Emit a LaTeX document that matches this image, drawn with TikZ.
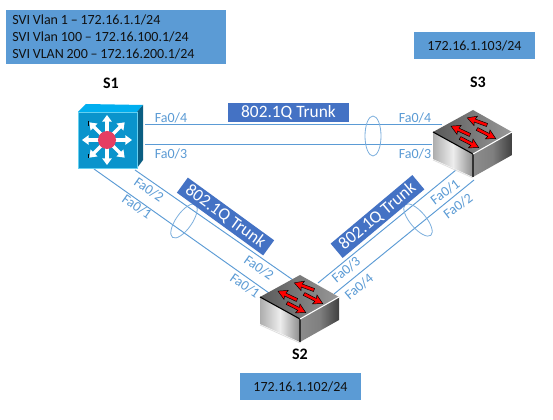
\documentclass[tikz,border=0pt]{standalone}
\usepackage{fontspec}
\usetikzlibrary{arrows.meta}
\setmainfont{Carlito}
\definecolor{boxblue}{HTML}{5B9BD5}
\definecolor{trunkblue}{HTML}{4472C4}
\definecolor{portblue}{HTML}{5B9BD5}
\definecolor{txtdark}{HTML}{111111}
\definecolor{cubetop}{HTML}{00AEEF}
\definecolor{cubefront}{HTML}{0A94CC}
\definecolor{cubeside}{HTML}{0B5E82}
\definecolor{cubeedge}{HTML}{66D0F0}
\definecolor{cubehub}{HTML}{E63E62}
\tikzset{
 infobox/.style={fill=boxblue,inner sep=0pt,text=txtdark,font=\fontsize{10.5}{12.75}\selectfont},
 trunkbox/.style={fill=trunkblue,text=white,minimum width=80pt,minimum height=14pt,inner sep=0pt,font=\fontsize{13}{15}\selectfont},
 port/.style={text=portblue,inner sep=0pt,font=\fontsize{10.5}{12}\selectfont},
 title/.style={inner sep=0pt,font=\fontsize{12}{14}\bfseries\selectfont},
 link/.style={draw=boxblue,line width=0.7pt},
 bundle/.style={draw=boxblue!80,line width=0.6pt},
 sw arrow/.style={fill=red,draw=black,line width=0.35pt},
 pics/swicon/.style={code={
   \shade[left color=black!32,right color=black!45,middle color=black!7] (-40,22)--(0,44)--(0,67)--(-40,49)--cycle;
   \shade[left color=black!45,right color=black!75,middle color=black!50] (0,44)--(39,22)--(39,45)--(0,67)--cycle;
   \shade[left color=black!65,right color=black!40] (0,0)--(39,22)--(0,44)--(-40,22)--cycle;
   \draw[black,line width=0.8pt] (-40,22)--(0,44)--(0,67);
   \draw[white,line width=0.8pt] (0,44)--(39,22);
   \draw[black!12,line width=0.6pt] (-40,50)--(0,68);
   \foreach \ax/\ay/\rot in {14/15/160,-3/25/155,4/19/-27,-13/28/-27}{
     \begin{scope}[shift={(\ax,\ay)},rotate=\rot]
       \path[sw arrow] (0,-1.6)--(13,-1.6)--(12,-5)--(21,0)--(12,5)--(13,1.6)--(0,1.6)--cycle;
     \end{scope}}
 }},
 sunarrow/.style={draw=white,line width=2.4pt,-{Triangle[length=5pt,width=7pt,fill=white]}},
}
\begin{document}
\begin{tikzpicture}[x=0.75pt,y=-0.75pt]
\useasboundingbox[fill=white] (0,0) rectangle (553,420);

\coordinate (s1a) at (145,124.5);
\coordinate (s1b) at (145,144.5);
\coordinate (s3a) at (442,124.5);
\coordinate (s3b) at (432,144.5);
\coordinate (s1c) at (135,170);
\coordinate (s1d) at (94,169);
\coordinate (s2c) at (293,280);
\coordinate (s2d) at (269,293);
\coordinate (s2e) at (318,283);
\coordinate (s2f) at (334,294);
\coordinate (s3e) at (456,170);
\coordinate (s3f) at (474,180);
\draw[link] (s1a)--(s3a);
\draw[link] (s1b)--(s3b);
\draw[link] (s1c)--(s2c);
\draw[link] (s1d)--(s2d);
\draw[link] (s2e)--(s3e);
\draw[link] (s2f)--(s3f);

\draw[bundle] (373,136) ellipse (8 and 20);
\draw[bundle,rotate around={-35:(184,221)}] (184,221) ellipse (8 and 20);
\draw[bundle,rotate around={40:(418,220)}] (418,220) ellipse (8 and 20);

% S1
\fill[cubetop] (78,112)--(86,104)--(143,105)--(137,112)--cycle;
\fill[cubeside] (137,112)--(143,105)--(143,160)--(137,168)--cycle;
\filldraw[fill=cubefront,draw=cubeedge] (78,112) rectangle (137,168);
\draw[black,line width=0.7pt] (88.5,121)--(88.5,126) (88.5,154)--(88.5,158);
\foreach \a in {0,45,...,315}{
  \draw[sunarrow] (107,140)--++(\a:25);
}
\fill[cubehub] (107,140) circle (9);
\node[title] (S1) at (111,83) {S1};

\pic (swc) at (473,110) {swicon};
\pic (swb) at (300,275) {swicon};
\node[title] (S3) at (478,82) {S3};
\node[title] (S2) at (300,354) {S2};

\node[infobox,minimum width=165pt,minimum height=40.5pt,anchor=north west,align=left,text width=156pt,inner xsep=4.5pt] (svi) at (6,10)
 {\spaceskip=2.1pt SVI Vlan 1 – 172.16.1.1/24\\SVI Vlan 100 – 172.16.100.1/24\\SVI VLAN 200 – 172.16.200.1/24};
\node[infobox,minimum width=91pt,minimum height=20pt] (ip3) at (474.5,45.5) {172.16.1.103/24};
\node[infobox,minimum width=91pt,minimum height=20pt] (ip2) at (300.5,386.5) {172.16.1.102/24};

\node[trunkbox,minimum width=91pt] (t1) at (288.5,112.5) {802.1Q Trunk};
\node[trunkbox,rotate=-36] (t2) at (225.5,216.5) {802.1Q Trunk};
\node[trunkbox,rotate=40] (t3) at (377.5,216.5) {802.1Q Trunk};

\node[port] (p1) at (171,118) {Fa0/4};
\node[port] (p2) at (171,154) {Fa0/3};
\node[port] (p3) at (415,118) {Fa0/4};
\node[port] (p4) at (415,154) {Fa0/3};
\node[port,rotate=-35] (p5) at (149,190) {Fa0/2};
\node[port,rotate=-35] (p6) at (137,207) {Fa0/1};
\node[port,rotate=-35] (p7) at (259,268) {Fa0/2};
\node[port,rotate=-35] (p8) at (245,286) {Fa0/1};
\node[port,rotate=40] (p9) at (346,270) {Fa0/3};
\node[port,rotate=40] (p10) at (359,287) {Fa0/4};
\node[port,rotate=37] (p11) at (445,192) {Fa0/1};
\node[port,rotate=37] (p12) at (458,206) {Fa0/2};
\end{tikzpicture}
\end{document}
